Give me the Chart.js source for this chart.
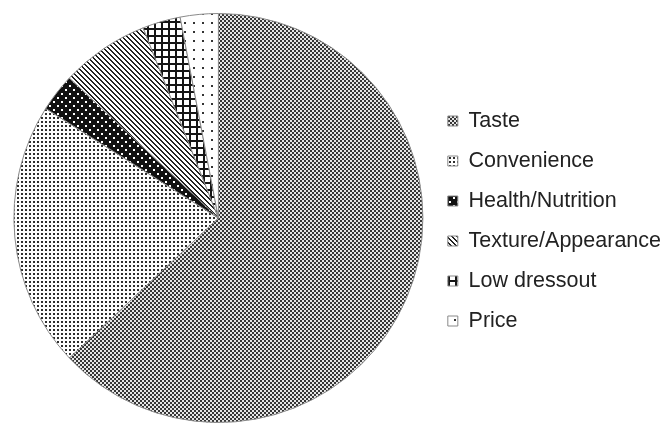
<!DOCTYPE html>
<html>
<head>
<meta charset="utf-8">
<script src="https://cdn.jsdelivr.net/npm/chart.js@4/dist/chart.umd.min.js"></script>
<style>
  body { margin: 0; background: #fff; }
  #wrap { width: 667px; height: 425px; }
</style>
</head>
<body>
<div id="wrap"><canvas id="pieChart"></canvas></div>
<script>
const categories = ["Taste", "Convenience", "Health/Nutrition", "Texture/Appearance", "Low dressout", "Price"];
const shares = [63, 21, 3, 7, 3, 3];

// small tile -> repeating canvas pattern
function tile(size, paint) {
  const c = document.createElement("canvas");
  c.width = size;
  c.height = size;
  const g = c.getContext("2d");
  paint(g, size);
  return g.createPattern(c, "repeat");
}

const checker = tile(4, (g) => {
  g.fillStyle = "#e6e6e6";
  g.fillRect(0, 0, 4, 4);
  g.fillStyle = "#363636";
  g.fillRect(0, 0, 2, 2);
  g.fillRect(2, 2, 2, 2);
});

const fineDots = tile(4, (g) => {
  g.fillStyle = "#fff";
  g.fillRect(0, 0, 4, 4);
  g.fillStyle = "#2e2e2e";
  g.fillRect(1, 1, 2, 2);
});

const whiteDots = tile(8, (g) => {
  g.fillStyle = "#111";
  g.fillRect(0, 0, 8, 8);
  g.fillStyle = "#fff";
  g.fillRect(1, 1, 2, 2);
  g.fillRect(5, 5, 2, 2);
});

const diagonal = tile(5, (g, s) => {
  g.fillStyle = "#fff";
  g.fillRect(0, 0, s, s);
  g.fillStyle = "#222";
  for (let y = 0; y < s; y++) {
    for (let x = 0; x < s; x++) {
      if ((((x - y) % s) + s) % s < 2) g.fillRect(x, y, 1, 1);
    }
  }
});

const grid = tile(7, (g) => {
  g.fillStyle = "#fff";
  g.fillRect(0, 0, 7, 7);
  g.fillStyle = "#151515";
  g.fillRect(0, 0, 7, 2);
  g.fillRect(0, 0, 2, 7);
});

const sparseDots = tile(9, (g) => {
  g.fillStyle = "#fff";
  g.fillRect(0, 0, 9, 9);
  g.fillStyle = "#333";
  g.fillRect(4, 4, 2, 2);
});

const fills = [checker, fineDots, whiteDots, diagonal, grid, sparseDots];

const config = {
  type: "pie",
  data: {
    labels: categories,
    datasets: [
      {
        data: shares,
        backgroundColor: fills,
        borderColor: "#8a8a8a",
        borderWidth: 1,
      },
    ],
  },
  options: {
    responsive: true,
    maintainAspectRatio: false,
    animation: false,
    layout: {
      padding: { left: 7.5, top: 13, bottom: 2, right: -4 },
    },
    plugins: {
      legend: {
        position: "right",
        // empty title only nudges the list down a little
        title: { display: true, text: "", padding: 3, font: { size: 0 } },
        labels: {
          boxWidth: 10,
          boxHeight: 10,
          padding: 18.5,
          color: "#222",
          font: { family: "'Liberation Sans', Arial, sans-serif", size: 21.5 },
        },
      },
      tooltip: { enabled: false },
    },
  },
};

new Chart(document.getElementById("pieChart"), config);
</script>
</body>
</html>
